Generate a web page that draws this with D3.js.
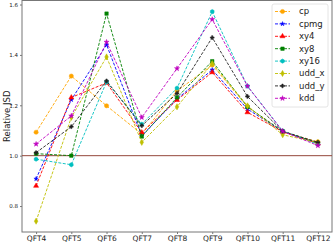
<!DOCTYPE html>
<html lang="en">
<head>
<meta charset="UTF-8">
<title>Relative JSD</title>
<script src="https://d3js.org/d3.v7.min.js"></script>
<style>
  body { margin: 0; background: #fff; }
  text { font-family: "DejaVu Sans", sans-serif; }
</style>
</head>
<body>
<svg width="333" height="243"></svg>
<script>
    // Categories and series
    const categories = ["QFT4", "QFT5", "QFT6", "QFT7", "QFT8", "QFT9", "QFT10", "QFT11", "QFT12"];
    const yTicks = [0.8, 1.0, 1.2, 1.4, 1.6];

    const cp    = [1.093, 1.316, 1.198, 1.086, 1.257, 1.360, 1.194, 1.094, 1.055];
    const cpmg  = [0.908, 1.222, 1.440, 1.079, 1.225, 1.341, 1.185, 1.096, 1.050];
    const xy4   = [0.880, 1.231, 1.289, 1.092, 1.221, 1.331, 1.172, 1.095, 1.048];
    const xy8   = [1.008, 1.000, 1.564, 1.076, 1.231, 1.375, 1.194, 1.097, 1.050];
    const xy16  = [0.986, 0.964, 1.293, 1.125, 1.268, 1.572, 1.276, 1.098, 1.045];
    const udd_x = [0.740, 1.152, 1.392, 1.053, 1.194, 1.366, 1.198, 1.083, 1.052];
    const udd_y = [1.012, 1.115, 1.297, 1.119, 1.247, 1.469, 1.235, 1.097, 1.053];
    const kdd   = [1.046, 1.158, 1.451, 1.152, 1.346, 1.541, 1.276, 1.097, 1.040];

    const hexagon = {
        draw(context, size) {
            const r = Math.sqrt(size / 2.598);
            for (let i = 0; i < 6; i++) {
                const a = Math.PI / 3 * i + Math.PI / 6;
                if (i === 0) context.moveTo(r * Math.cos(a), r * Math.sin(a));
                else context.lineTo(r * Math.cos(a), r * Math.sin(a));
            }
            context.closePath();
        }
    };

    const series = [
        { name: "cp",    values: cp,    color: "#ffa500", symbol: d3.symbolCircle,   size: 14 },
        { name: "cpmg",  values: cpmg,  color: "#0000ff", symbol: d3.symbolStar,     size: 6 },
        { name: "xy4",   values: xy4,   color: "#ff0000", symbol: d3.symbolTriangle, size: 11 },
        { name: "xy8",   values: xy8,   color: "#008000", symbol: d3.symbolSquare,   size: 12 },
        { name: "xy16",  values: xy16,  color: "#00bfbf", symbol: hexagon,           size: 12 },
        { name: "udd_x", values: udd_x, color: "#bfbf00", symbol: d3.symbolDiamond,  size: 11 },
        { name: "udd_y", values: udd_y, color: "#222222", symbol: d3.symbolCross,    size: 8 },
        { name: "kdd",   values: kdd,   color: "#bf00bf", symbol: d3.symbolStar,     size: 8 }
    ];

    const margin = { left: 22, right: 1, top: 0.5, bottom: 11 };
    const width = 333, height = 243;

    const svg = d3.select("svg");

    const x = d3.scalePoint()
        .domain(categories)
        .range([margin.left, width - margin.right])
        .padding(0.4);

    const y = d3.scaleLinear()
        .domain([0.697, 1.616])
        .range([height - margin.bottom, margin.top]);

    // frame
    svg.append("rect")
        .attr("x", margin.left)
        .attr("y", margin.top)
        .attr("width", width - margin.right - margin.left)
        .attr("height", height - margin.bottom - margin.top)
        .attr("fill", "none")
        .attr("stroke", "#777")
        .attr("stroke-width", 1);

    // axes
    const xAxis = svg.append("g")
        .attr("transform", `translate(0,${height - margin.bottom})`)
        .call(d3.axisBottom(x).tickSize(2).tickPadding(1.5));
    const yAxis = svg.append("g")
        .attr("transform", `translate(${margin.left},0)`)
        .call(d3.axisLeft(y).tickValues(yTicks).tickFormat(d3.format(".1f")).tickSize(2).tickPadding(2));

    [xAxis, yAxis].forEach(g => {
        g.select(".domain").remove();
        g.selectAll(".tick line").attr("stroke", "#777");
        g.selectAll("text").attr("fill", "#222").style("font-family", "DejaVu Sans, sans-serif");
    });
    xAxis.selectAll("text").attr("font-size", 7.5);
    yAxis.selectAll("text").attr("font-size", 5.5);

    svg.append("text")
        .attr("transform", `translate(10,${(height - margin.bottom + margin.top) / 2}) rotate(-90)`)
        .attr("text-anchor", "middle")
        .attr("font-size", 8.5)
        .attr("fill", "#222")
        .text("Relative JSD");

    // reference line at 1.0
    svg.append("line")
        .attr("x1", margin.left).attr("x2", width - margin.right)
        .attr("y1", y(1)).attr("y2", y(1))
        .attr("stroke", "#94473a")
        .attr("stroke-width", 1);

    const line = d3.line()
        .x((d, i) => x(categories[i]))
        .y(d => y(d));

    const groups = svg.selectAll(".series")
        .data(series)
        .enter()
        .append("g")
        .attr("class", "series");

    groups.append("path")
        .attr("d", d => line(d.values))
        .attr("fill", "none")
        .attr("stroke", d => d.color)
        .attr("stroke-width", 0.9)
        .attr("stroke-dasharray", "3,1.5");

    groups.each(function(s) {
        d3.select(this).selectAll(".pt")
            .data(s.values)
            .enter()
            .append("path")
            .attr("class", "pt")
            .attr("transform", (d, i) => `translate(${x(categories[i])},${y(d)})`)
            .attr("d", d3.symbol().type(s.symbol).size(s.size))
            .attr("fill", s.color)
            .attr("stroke", s.color)
            .attr("stroke-width", 0.5);
    });

    // legend
    const legend = svg.append("g").attr("transform", "translate(272,4)");
    legend.append("rect")
        .attr("width", 56)
        .attr("height", 103)
        .attr("rx", 2)
        .attr("fill", "white")
        .attr("fill-opacity", 0.85)
        .attr("stroke", "#ddd")
        .attr("stroke-width", 0.8);

    const item = legend.selectAll(".item")
        .data(series)
        .enter()
        .append("g")
        .attr("class", "item")
        .attr("transform", (d, i) => `translate(0,${7.5 + i * 12.4})`);

    item.append("line")
        .attr("x1", 3).attr("x2", 18)
        .attr("stroke", d => d.color)
        .attr("stroke-width", 0.9)
        .attr("stroke-dasharray", "3,1.5");

    item.append("path")
        .attr("transform", "translate(10.5,0)")
        .attr("d", d => d3.symbol().type(d.symbol).size(d.size)())
        .attr("fill", d => d.color)
        .attr("stroke", d => d.color)
        .attr("stroke-width", 0.5);

    item.append("text")
        .attr("x", 27)
        .attr("dy", "0.35em")
        .attr("font-size", 8.5)
        .attr("fill", "#222")
        .text(d => d.name);
</script>
</body>
</html>
